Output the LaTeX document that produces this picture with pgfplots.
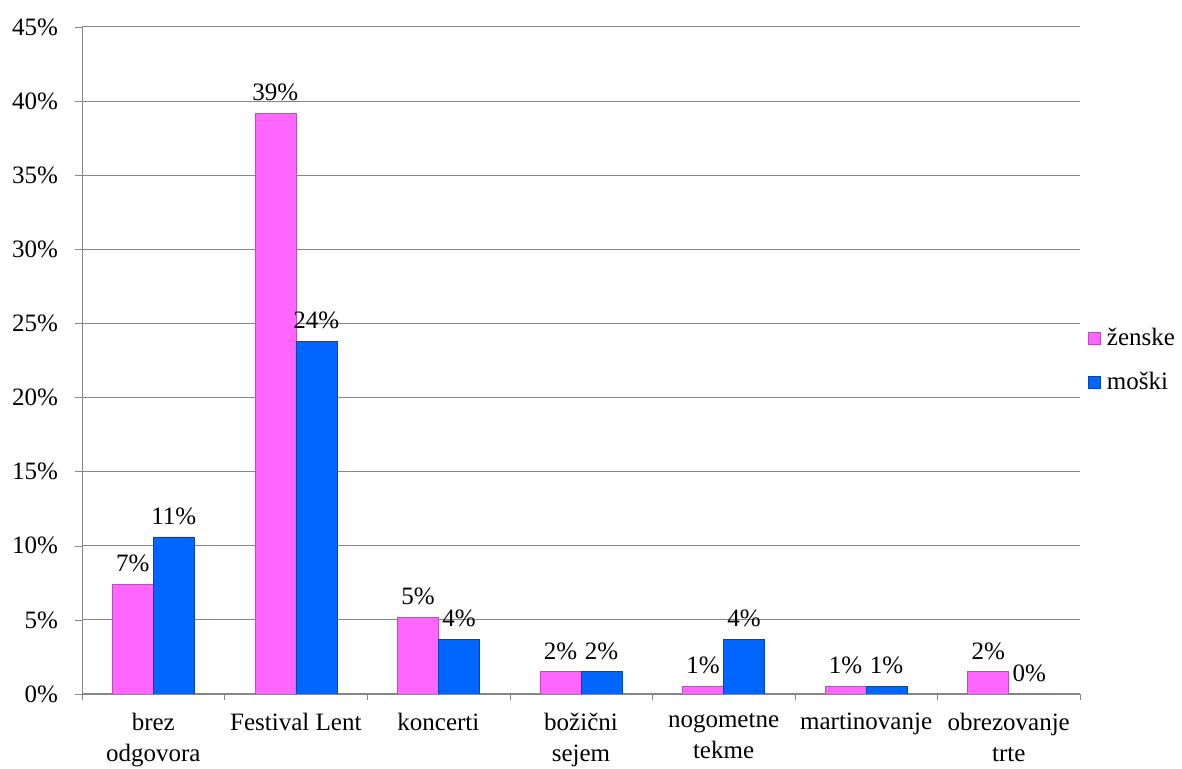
\documentclass[border=0pt]{standalone}
\usepackage{fontspec}
\setmainfont{Liberation Serif}
\usepackage{pgfplots}
\pgfplotsset{compat=1.18}
\definecolor{zen}{HTML}{FF66FF}
\definecolor{mos}{HTML}{0066FF}
\definecolor{gridc}{HTML}{868686}
\begin{document}
\begin{tikzpicture}[font=\fontsize{12.5}{15.5}\selectfont]
\begin{axis}[
  at={(0,0)}, anchor=south west,
  scale only axis, width=499pt, height=333.5pt,
  ymin=0, ymax=45, ytick={0,5,...,45},
  xmin=-0.5, xmax=6.5,
  ybar=0pt, bar width=20.5pt,
  axis x line*=bottom, axis y line*=left,
  axis line style={gridc},
  ymajorgrids, grid style={gridc, line width=0.5pt},
  tick align=outside,
  major tick length=3.5pt, minor tick length=3pt,
  tick style={gridc},
  xtick={0,...,6},
  xticklabels={brez\\odgovora, Festival Lent, koncerti, božični\\sejem, nogometne\\tekme, martinovanje, obrezovanje\\trte},
  major x tick style={draw=none},
  minor xtick={-0.5,0.5,...,6.5},
  xticklabel style={align=center, font=\fontsize{12.5}{15.5}\selectfont, yshift=-2.5pt},
  yticklabel style={font=\fontsize{12.5}{15.5}\selectfont, xshift=-5pt},
  yticklabel={\pgfmathprintnumber{\tick}\%},
  /pgf/number format/assume math mode=true,
  point meta=explicit symbolic,
  nodes near coords={\pgfplotspointmeta\%},
  nodes near coords style={font=\fontsize{12.5}{15.5}\selectfont, inner sep=2pt, yshift=4pt},
  legend style={at={(1,0.5)}, anchor=west, xshift=3pt, draw=none, fill=none, row sep=8pt, font=\fontsize{12.5}{15.5}\selectfont, inner xsep=1pt, nodes={inner xsep=3pt}},
  legend cell align=left,
  legend image code/.code={\draw[#1] (0pt,-3pt) rectangle (6pt,3pt);},
]
\addplot[fill=zen, draw=zen!75!black, line width=0.3pt] coordinates {
  (0,7.4) [7] (1,39.2) [39] (2,5.2) [5] (3,1.5) [2] (4,0.5) [1] (5,0.5) [1] (6,1.5) [2]
};
\addplot[fill=mos, draw=mos!70!black, line width=0.3pt] coordinates {
  (0,10.6) [11] (1,23.8) [24] (2,3.7) [4] (3,1.5) [2] (4,3.7) [4] (5,0.5) [1] (6,0) [0]
};
\legend{ženske, moški}
\end{axis}
\pgfresetboundingbox
\path (-41pt,-37.5pt) rectangle (550pt,347pt);
\end{tikzpicture}
\end{document}
